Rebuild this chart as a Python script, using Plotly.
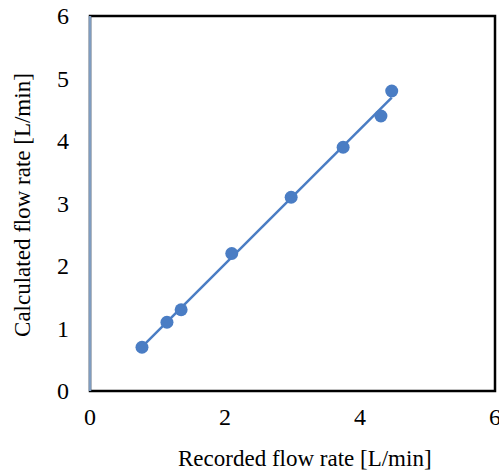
import numpy as np
import plotly.graph_objects as go

recorded = [0.77, 1.14, 1.35, 2.10, 2.98, 3.75, 4.31, 4.47]
calculated = [0.70, 1.10, 1.30, 2.20, 3.10, 3.90, 4.40, 4.80]
x_ticks = [0, 2, 4, 6]
y_ticks = [0, 1, 2, 3, 4, 5, 6]
x_title = "Recorded flow rate [L/min]"
y_title = "Calculated flow rate [L/min]"

blue = "#4A7DC4"
font_family = "Liberation Serif, Times New Roman, serif"

# linear trendline (least squares) over the data range
xa = np.array(recorded)
ya = np.array(calculated)
k, b = np.polyfit(xa, ya, 1)
tx = [xa.min(), xa.max()]
ty = [k * v + b for v in tx]

fig = go.Figure()
fig.add_trace(go.Scatter(x=tx, y=ty, mode="lines",
                         line=dict(color=blue, width=2.5), showlegend=False,
                         hoverinfo="skip"))
fig.add_trace(go.Scatter(x=recorded, y=calculated, mode="markers",
                         marker=dict(color=blue, size=13), showlegend=False))

fig.update_layout(
    width=499, height=472,
    margin=dict(l=90, r=4, t=16, b=81, autoexpand=False),
    paper_bgcolor="white", plot_bgcolor="white",
    font=dict(family=font_family, size=23, color="black"),
    xaxis=dict(range=[0, 6], tickvals=x_ticks, showgrid=False, zeroline=False,
               showline=False, ticks="", ticklabelstandoff=9, automargin=False,
               ticklabeloverflow="allow", tickfont=dict(size=24)),
    yaxis=dict(range=[0, 6], tickvals=y_ticks, showgrid=False, zeroline=False,
               showline=False, ticks="", ticklabelstandoff=20, automargin=False,
               ticklabeloverflow="allow", tickfont=dict(size=24)),
    shapes=[
        dict(type="rect", xref="paper", yref="paper", x0=0, x1=1, y0=0, y1=1,
             line=dict(color="black", width=2.5), layer="above"),
        dict(type="line", xref="paper", yref="paper", x0=0, x1=0, y0=0, y1=1,
             line=dict(color="#7f9cc0", width=2.5), layer="above"),
    ],
    annotations=[
        dict(text=x_title, xref="paper", yref="paper", x=0.531, y=-0.181,
             xanchor="center", yanchor="middle", showarrow=False,
             font=dict(size=23)),
        dict(text=y_title, xref="paper", yref="paper", x=-0.168, y=0.496,
             xanchor="center", yanchor="middle", showarrow=False, textangle=-90,
             font=dict(size=23)),
    ],
)

fig.write_html("out.html",
               config={"displayModeBar": False},
               post_script="document.body.style.margin='0';"
                           "document.body.style.overflow='hidden';")
